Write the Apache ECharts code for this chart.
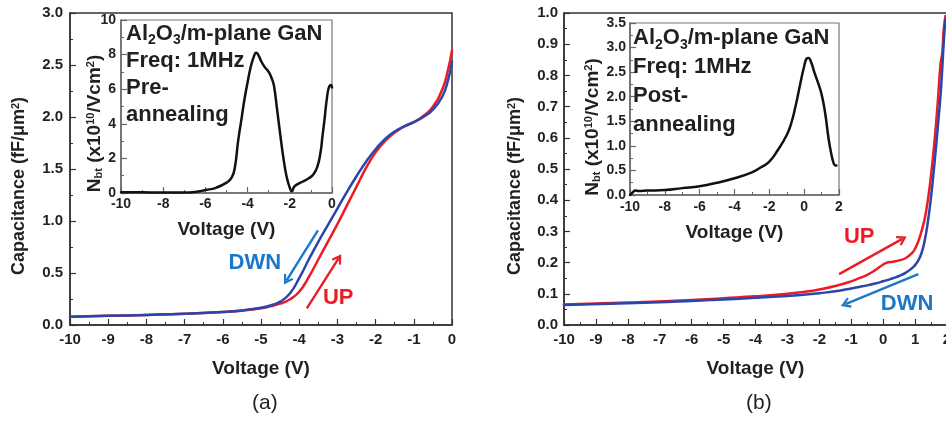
<!DOCTYPE html>
<html>
<head>
<meta charset="utf-8">
<script src="https://cdn.jsdelivr.net/npm/echarts@6/dist/echarts.min.js"></script>
<style>
html,body{margin:0;padding:0;background:#fff;}
#chart{width:946px;height:423px;}
</style>
</head>
<body>
<div id="chart"></div>
<script>
// (a) pre-annealing C-V, main plot
var voltA = [-10,-9,-8,-7,-6,-5.5,-5,-4.75,-4.5,-4.25,-4,-3.75,-3.5,-3.25,-3,-2.75,-2.5,-2.25,-2,-1.75,-1.5,-1.25,-1,-0.75,-0.5,-0.25,-0.1,0];
var capDwnA = [0.080,0.088,0.097,0.108,0.125,0.140,0.165,0.188,0.225,0.30,0.45,0.63,0.80,0.96,1.12,1.28,1.43,1.57,1.69,1.79,1.86,1.91,1.95,2.00,2.07,2.20,2.36,2.53];
var capUpA  = [0.080,0.088,0.097,0.108,0.125,0.138,0.160,0.180,0.205,0.245,0.32,0.46,0.63,0.80,0.97,1.15,1.33,1.51,1.66,1.77,1.85,1.91,1.95,2.01,2.10,2.27,2.46,2.64];

// (a) inset: Nbt
var voltInA = [-10,-9,-8,-7,-6.5,-6,-5.5,-5,-4.75,-4.6,-4.45,-4.3,-4.15,-4,-3.85,-3.7,-3.6,-3.5,-3.35,-3.2,-3,-2.85,-2.75,-2.6,-2.45,-2.3,-2.15,-2,-1.9,-1.8,-1.65,-1.4,-1.1,-0.9,-0.7,-0.55,-0.45,-0.35,-0.25,-0.15,-0.05,0];
var nbtA = [0.05,0.04,0.03,0.03,0.06,0.17,0.3,0.6,0.9,1.5,3.0,4.2,5.4,6.4,7.3,7.9,8.1,8.0,7.6,7.3,7.0,6.6,6.2,4.8,3.35,2.0,0.94,0.3,0.1,0.35,0.5,0.65,0.85,1.05,1.5,2.3,3.3,4.3,5.4,6.1,6.25,6.1];

// (b) post-annealing C-V, main plot
var voltB = [-10,-8,-6,-5,-4,-3,-2.5,-2,-1.5,-1,-0.75,-0.5,-0.25,0,0.1,0.3,0.5,0.7,0.9,1.0,1.1,1.2,1.3,1.4,1.5,1.6,1.7,1.8,1.85,1.9,1.95];
var capDwnB = [0.064,0.070,0.077,0.082,0.087,0.093,0.097,0.102,0.108,0.117,0.122,0.127,0.133,0.140,0.143,0.150,0.157,0.167,0.182,0.192,0.207,0.23,0.27,0.33,0.41,0.51,0.62,0.74,0.82,0.91,0.98];
var capUpB  = [0.066,0.072,0.080,0.086,0.092,0.100,0.106,0.114,0.125,0.140,0.150,0.161,0.176,0.194,0.199,0.203,0.207,0.214,0.230,0.245,0.268,0.30,0.34,0.40,0.48,0.58,0.70,0.84,0.87,0.95,0.99];

// (b) inset: Nbt
var voltInB = [-10,-9.85,-9.7,-9.5,-9,-8,-7,-6,-5,-4,-3,-2.5,-2,-1.5,-1,-0.75,-0.5,-0.25,0,0.15,0.25,0.4,0.6,0.8,1.0,1.2,1.4,1.55,1.7,1.8,1.85];
var nbtB = [0.0,0.05,0.09,0.08,0.09,0.10,0.14,0.18,0.25,0.34,0.46,0.56,0.68,0.92,1.22,1.45,1.8,2.22,2.62,2.78,2.79,2.70,2.48,2.28,2.05,1.68,1.15,0.85,0.64,0.6,0.6];

// sweep arrows [start, end] and their labels
var arrowDwnA = [[-3.51,0.91],[-4.33,0.43]];
var arrowUpA  = [[-3.80,0.16],[-2.97,0.64]];
var arrowUpB  = [[-1.38,0.163],[0.60,0.276]];
var arrowDwnB = [[1.10,0.163],[-1.18,0.067]];
var labelDwnA = [-5.16,0.60];
var labelUpA  = [-2.98,0.26];
var labelUpB  = [-0.75,0.282];
var labelDwnB = [0.75,0.067];

var FONT = 'Liberation Sans, Arial, Helvetica, sans-serif';
var RED = '#ec1c24', BLUE = '#2a46ad', LBLUE = '#1b78c8', INK = '#231f20';
var CHEVRON = 'path://M5,0 L10,9 L8.3,10 L5,4.3 L1.7,10 L0,9 Z';

function pairs(xs, ys){
	var out = [];
	for(var i = 0;i<xs.length;i++){
		out.push([xs[i], ys[i]]);
	}
	return out;
}

function fixed1(v){ return v.toFixed(1); }

function axisLook(color, labelSize, margin){
	return {
		axisLine:{show:true, onZero:false, lineStyle:{color:color, width:1.5}},
		axisTick:{show:true, inside:true, length:6, lineStyle:{color:color, width:1.2}},
		minorTick:{show:true, splitNumber:2, length:3, lineStyle:{color:color, width:1}},
		splitLine:{show:false},
		minorSplitLine:{show:false},
		axisLabel:{color:INK, fontSize:labelSize, fontWeight:'bold', fontFamily:FONT, margin:margin}
	};
}

function xAxis(grid, min, max, interval, color, labelSize, margin, gap){
	var a = axisLook(color, labelSize, margin);
	a.type = 'value'; a.gridIndex = grid;
	a.min = min; a.max = max; a.interval = interval;
	a.name = 'Voltage (V)';
	a.nameLocation = 'middle';
	a.nameGap = gap;
	a.nameMoveOverlap = false;
	a.nameTextStyle = {color:INK, fontSize:19, fontWeight:'bold', fontFamily:FONT};
	return a;
}

function yAxis(grid, min, max, interval, color, labelSize, margin, name, nameSize, gap, shift, fmt){
	var a = axisLook(color, labelSize, margin);
	a.type = 'value'; a.gridIndex = grid;
	a.min = min; a.max = max; a.interval = interval;
	if(fmt){ a.axisLabel.formatter = fmt; }
	a.name = name;
	a.nameLocation = 'middle';
	a.nameRotate = 90;
	a.nameGap = gap;
	a.nameMoveOverlap = false;
	a.nameTextStyle = {
		color:INK, fontSize:nameSize, fontWeight:'bold', fontFamily:FONT,
		padding:[0, shift, 0, 0],
		rich:{
			sup:{fontSize:Math.round(nameSize*0.6), fontWeight:'bold', fontFamily:FONT, color:INK, verticalAlign:'top', lineHeight:nameSize*0.6},
			sub:{fontSize:Math.round(nameSize*0.6), fontWeight:'bold', fontFamily:FONT, color:INK, verticalAlign:'bottom', lineHeight:nameSize*0.6}
		}
	};
	return a;
}

function curve(name, xs, ys, color, xi, yi){
	return {
		name:name, type:'line', xAxisIndex:xi, yAxisIndex:yi,
		data:pairs(xs, ys), showSymbol:false, symbol:'none',
		smooth:0.5,
		lineStyle:{color:color, width:2.5, cap:'round', join:'round'}, itemStyle:{color:color}
	};
}

function addArrow(series, arrow, label, text, color){
	series.markLine = {
		silent:true, animation:false,
		symbol:['none', CHEVRON], symbolSize:[11,10],
		label:{show:false},
		lineStyle:{color:color, width:2.4, type:'solid'},
		data:[[{coord:arrow[0]}, {coord:arrow[1]}]]
	};
	series.markPoint = {
		silent:true, animation:false,
		symbol:'circle', symbolSize:0,
		label:{show:true, position:'inside', formatter:'{b}', color:color, fontSize:22, fontWeight:'bold', fontFamily:FONT},
		data:[{name:text, coord:label}]
	};
}

function insetText(x, y, step, word1, word2){
	return {
		type:'text', left:x, top:y, z:50,
		style:{
			text:'Al{s|2}O{s|3}/m-plane GaN\nFreq: 1MHz\n' + word1 + '\n' + word2,
			fill:INK, fontSize:22, fontWeight:'bold', fontFamily:FONT, lineHeight:step,
			rich:{s:{fill:INK, fontSize:14, fontWeight:'bold', fontFamily:FONT, verticalAlign:'bottom', lineHeight:14}}
		}
	};
}

var chart = echarts.init(document.getElementById('chart'));

var sDwnA = curve('DWN', voltA, capDwnA, BLUE, 0, 0);
var sUpA = curve('UP', voltA, capUpA, RED, 0, 0);
var sDwnB = curve('DWN', voltB, capDwnB, BLUE, 2, 2);
var sUpB = curve('UP', voltB, capUpB, RED, 2, 2);
addArrow(sDwnA, arrowDwnA, labelDwnA, 'DWN', LBLUE);
addArrow(sUpA, arrowUpA, labelUpA, 'UP', RED);
addArrow(sUpB, arrowUpB, labelUpB, 'UP', RED);
addArrow(sDwnB, arrowDwnB, labelDwnB, 'DWN', LBLUE);

var NBT = 'N{sub|bt} (x10{sup|10}/Vcm{sup|2})';
var CAP = 'Capacitance (fF/\u03bcm{sup|2})';

var option = {
	animation:false,
	backgroundColor:'#fff',
	grid:[
		{left:70, top:13, width:382, height:312, show:true, borderColor:'#333', borderWidth:1.5, backgroundColor:'transparent', containLabel:false, outerBoundsMode:'none'},
		{left:121, top:20, width:211, height:173, show:true, borderColor:'#777', borderWidth:1.2, backgroundColor:'#fff', containLabel:false, outerBoundsMode:'none'},
		{left:564, top:13, width:383, height:312, show:true, borderColor:'#333', borderWidth:1.5, backgroundColor:'transparent', containLabel:false, outerBoundsMode:'none'},
		{left:630, top:23, width:209, height:172, show:true, borderColor:'#777', borderWidth:1.2, backgroundColor:'#fff', containLabel:false, outerBoundsMode:'none'}
	],
	xAxis:[
		xAxis(0, -10, 0, 1, '#333', 15, 7, 34),
		xAxis(1, -10, 0, 2, '#666', 14, 4, 27),
		xAxis(2, -10, 2, 1, '#333', 15, 7, 34),
		xAxis(3, -10, 2, 2, '#666', 14, 5, 28)
	],
	yAxis:[
		yAxis(0, 0, 3, 0.5, '#333', 15, 7, CAP, 18, 42, 34, fixed1),
		yAxis(1, 0, 10, 2, '#666', 14, 5, NBT, 19, 17, 34, null),
		yAxis(2, 0, 1, 0.1, '#333', 15, 6, CAP, 18, 40, 34, fixed1),
		yAxis(3, 0, 3.5, 0.5, '#666', 14, 4, NBT, 19, 28, 36, fixed1)
	],
	graphic:[
		insetText(126, 20, 27, 'Pre-', 'annealing'),
		insetText(633, 23, 29, 'Post-', 'annealing'),
		{type:'text', left:252, top:393, style:{text:'(a)', fill:INK, fontSize:21, fontFamily:FONT}},
		{type:'text', left:746, top:393, style:{text:'(b)', fill:INK, fontSize:21, fontFamily:FONT}}
	],
	series:[
		sUpA, sDwnA,
		curve('Nbt', voltInA, nbtA, '#111', 1, 1),
		sUpB, sDwnB,
		curve('Nbt', voltInB, nbtB, '#111', 3, 3)
	]
};

chart.setOption(option);
</script>
</body>
</html>
